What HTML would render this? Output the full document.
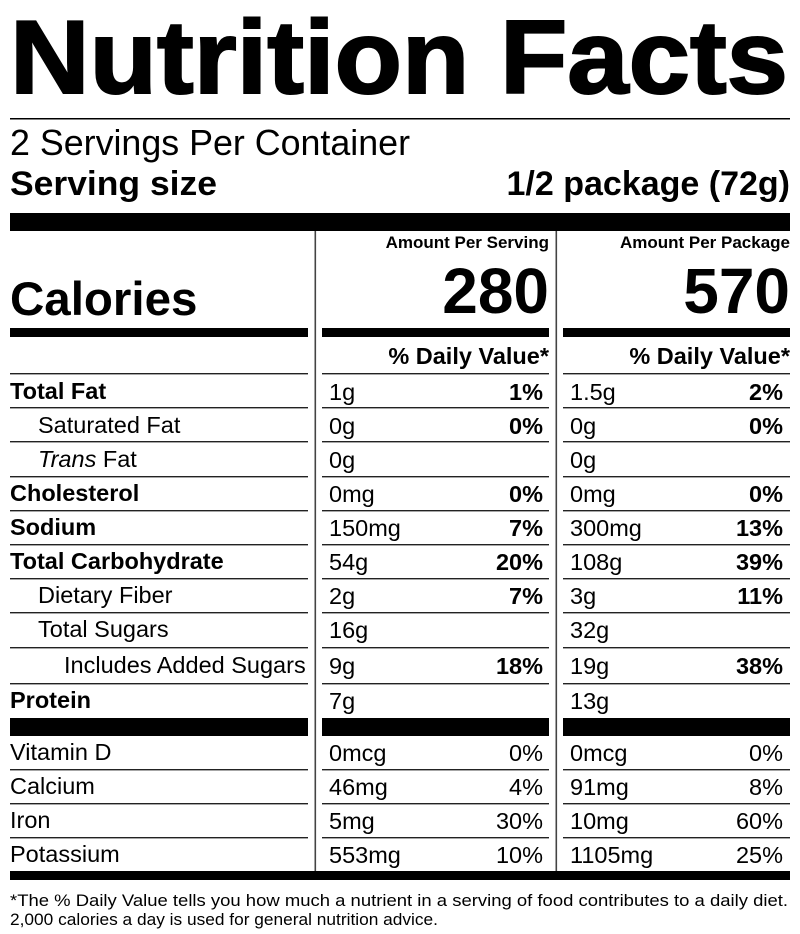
<!DOCTYPE html>
<html><head><meta charset="utf-8"><style>
html,body{margin:0;padding:0;background:#fff;}
svg{display:block;}
text{font-family:"Liberation Sans",Arial,sans-serif;fill:#000;}
.b{font-weight:bold;}
.r{font-size:23.5px;}
</style></head><body>
<svg width="800" height="934" viewBox="0 0 800 934" xmlns="http://www.w3.org/2000/svg">
<text x="10" y="93" class="b" font-size="104" stroke="#000" stroke-width="2" textLength="778" lengthAdjust="spacingAndGlyphs">Nutrition Facts</text>
<rect x="10" y="118" width="780" height="1.5"/>
<text x="10" y="155" font-size="36" textLength="400" lengthAdjust="spacingAndGlyphs">2 Servings Per Container</text>
<text x="10" y="195" class="b" font-size="34" textLength="207" lengthAdjust="spacingAndGlyphs">Serving size</text>
<text x="790" y="195" class="b" font-size="34" text-anchor="end">1/2 package (72g)</text>
<rect x="10" y="213" width="780" height="18"/>
<rect x="314.5" y="231" width="1.6" height="640" fill="#444"/>
<rect x="555.5" y="231" width="1.6" height="640" fill="#444"/>
<text x="549" y="248" class="b" font-size="17" text-anchor="end">Amount Per Serving</text>
<text x="790" y="248" class="b" font-size="17" text-anchor="end">Amount Per Package</text>
<text x="10" y="315" class="b" font-size="47.5">Calories</text>
<text x="549" y="313" class="b" font-size="64" text-anchor="end">280</text>
<text x="790" y="313" class="b" font-size="64" text-anchor="end">570</text>
<rect x="10" y="328" width="298" height="9"/>
<rect x="322" y="328" width="227" height="9"/>
<rect x="563" y="328" width="227" height="9"/>
<text x="549" y="364" class="b" font-size="23.5" text-anchor="end">% Daily Value*</text>
<text x="790" y="364" class="b" font-size="23.5" text-anchor="end">% Daily Value*</text>
<g fill="#222">
<rect x="10" y="373" width="298" height="1.4"/><rect x="322" y="373" width="227" height="1.4"/><rect x="563" y="373" width="227" height="1.4"/>
<rect x="10" y="407" width="298" height="1.4"/><rect x="322" y="407" width="227" height="1.4"/><rect x="563" y="407" width="227" height="1.4"/>
<rect x="10" y="441" width="298" height="1.4"/><rect x="322" y="441" width="227" height="1.4"/><rect x="563" y="441" width="227" height="1.4"/>
<rect x="10" y="476" width="298" height="1.4"/><rect x="322" y="476" width="227" height="1.4"/><rect x="563" y="476" width="227" height="1.4"/>
<rect x="10" y="510" width="298" height="1.4"/><rect x="322" y="510" width="227" height="1.4"/><rect x="563" y="510" width="227" height="1.4"/>
<rect x="10" y="544" width="298" height="1.4"/><rect x="322" y="544" width="227" height="1.4"/><rect x="563" y="544" width="227" height="1.4"/>
<rect x="10" y="578" width="298" height="1.4"/><rect x="322" y="578" width="227" height="1.4"/><rect x="563" y="578" width="227" height="1.4"/>
<rect x="10" y="612" width="298" height="1.4"/><rect x="322" y="612" width="227" height="1.4"/><rect x="563" y="612" width="227" height="1.4"/>
<rect x="10" y="647" width="298" height="1.4"/><rect x="322" y="647" width="227" height="1.4"/><rect x="563" y="647" width="227" height="1.4"/>
<rect x="10" y="683" width="298" height="1.4"/><rect x="322" y="683" width="227" height="1.4"/><rect x="563" y="683" width="227" height="1.4"/>
<rect x="10" y="769" width="298" height="1.4"/><rect x="322" y="769" width="227" height="1.4"/><rect x="563" y="769" width="227" height="1.4"/>
<rect x="10" y="803" width="298" height="1.4"/><rect x="322" y="803" width="227" height="1.4"/><rect x="563" y="803" width="227" height="1.4"/>
<rect x="10" y="837" width="298" height="1.4"/><rect x="322" y="837" width="227" height="1.4"/><rect x="563" y="837" width="227" height="1.4"/>
</g>
<rect x="10" y="718" width="298" height="18"/><rect x="322" y="718" width="227" height="18"/><rect x="563" y="718" width="227" height="18"/>
<rect x="10" y="871" width="780" height="9"/>
<g>
<text x="10" y="399" class="b r">Total Fat</text><text x="329" y="400" class="r">1g</text><text x="543" y="400" class="b r" text-anchor="end">1%</text><text x="570" y="400" class="r">1.5g</text><text x="783" y="400" class="b r" text-anchor="end">2%</text>
<text x="38" y="433" class="r">Saturated Fat</text><text x="329" y="434" class="r">0g</text><text x="543" y="434" class="b r" text-anchor="end">0%</text><text x="570" y="434" class="r">0g</text><text x="783" y="434" class="b r" text-anchor="end">0%</text>
<text x="38" y="467" class="r"><tspan font-style="italic">Trans</tspan> Fat</text><text x="329" y="468" class="r">0g</text><text x="570" y="468" class="r">0g</text>
<text x="10" y="501" class="b r">Cholesterol</text><text x="329" y="502" class="r">0mg</text><text x="543" y="502" class="b r" text-anchor="end">0%</text><text x="570" y="502" class="r">0mg</text><text x="783" y="502" class="b r" text-anchor="end">0%</text>
<text x="10" y="535" class="b r">Sodium</text><text x="329" y="536" class="r">150mg</text><text x="543" y="536" class="b r" text-anchor="end">7%</text><text x="570" y="536" class="r">300mg</text><text x="783" y="536" class="b r" text-anchor="end">13%</text>
<text x="10" y="569" class="b r">Total Carbohydrate</text><text x="329" y="570" class="r">54g</text><text x="543" y="570" class="b r" text-anchor="end">20%</text><text x="570" y="570" class="r">108g</text><text x="783" y="570" class="b r" text-anchor="end">39%</text>
<text x="38" y="603" class="r">Dietary Fiber</text><text x="329" y="604" class="r">2g</text><text x="543" y="604" class="b r" text-anchor="end">7%</text><text x="570" y="604" class="r">3g</text><text x="783" y="604" class="b r" text-anchor="end">11%</text>
<text x="38" y="637" class="r">Total Sugars</text><text x="329" y="638" class="r">16g</text><text x="570" y="638" class="r">32g</text>
<text x="64" y="673" class="r">Includes Added Sugars</text><text x="329" y="674" class="r">9g</text><text x="543" y="674" class="b r" text-anchor="end">18%</text><text x="570" y="674" class="r">19g</text><text x="783" y="674" class="b r" text-anchor="end">38%</text>
<text x="10" y="708" class="b r">Protein</text><text x="329" y="709" class="r">7g</text><text x="570" y="709" class="r">13g</text>
<text x="10" y="760" class="r">Vitamin D</text><text x="329" y="761" class="r">0mcg</text><text x="543" y="761" class="r" text-anchor="end">0%</text><text x="570" y="761" class="r">0mcg</text><text x="783" y="761" class="r" text-anchor="end">0%</text>
<text x="10" y="794" class="r">Calcium</text><text x="329" y="795" class="r">46mg</text><text x="543" y="795" class="r" text-anchor="end">4%</text><text x="570" y="795" class="r">91mg</text><text x="783" y="795" class="r" text-anchor="end">8%</text>
<text x="10" y="828" class="r">Iron</text><text x="329" y="829" class="r">5mg</text><text x="543" y="829" class="r" text-anchor="end">30%</text><text x="570" y="829" class="r">10mg</text><text x="783" y="829" class="r" text-anchor="end">60%</text>
<text x="10" y="862" class="r">Potassium</text><text x="329" y="863" class="r">553mg</text><text x="543" y="863" class="r" text-anchor="end">10%</text><text x="570" y="863" class="r">1105mg</text><text x="783" y="863" class="r" text-anchor="end">25%</text>
</g>
<text x="10" y="906" font-size="16.5" textLength="778" lengthAdjust="spacingAndGlyphs">*The % Daily Value tells you how much a nutrient in a serving of food contributes to a daily diet.</text>
<text x="10" y="925" font-size="16.5" textLength="428" lengthAdjust="spacingAndGlyphs">2,000 calories a day is used for general nutrition advice.</text>
</svg>
</body></html>
